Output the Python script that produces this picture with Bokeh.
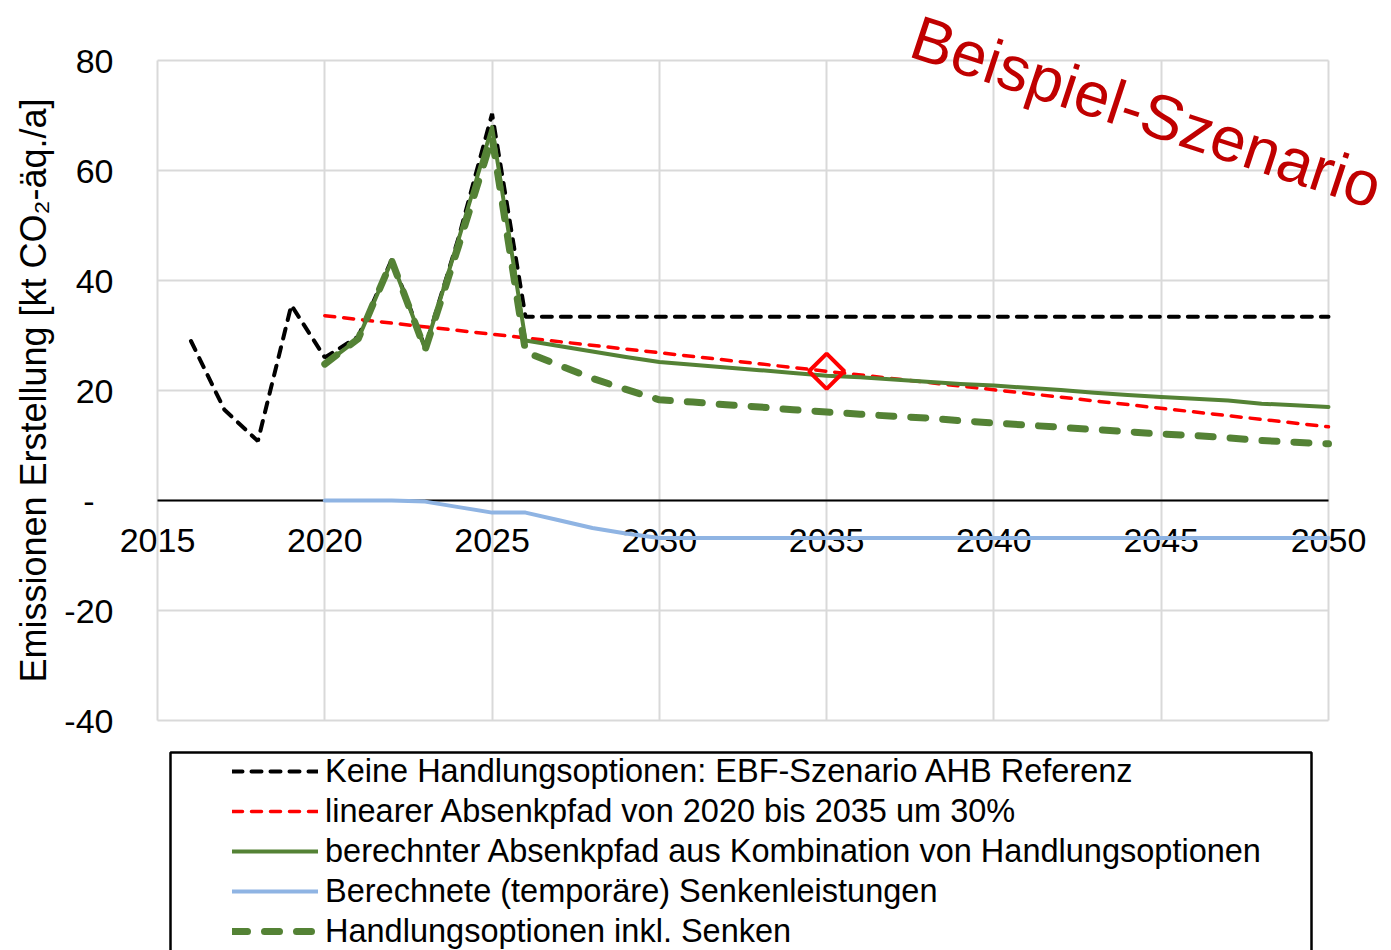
from bokeh.plotting import figure
from bokeh.models import (Legend, LegendItem, FixedTicker, Label, BoxAnnotation, Range1d)
from bokeh.embed import file_html
from bokeh.resources import INLINE

# ---------------- data ----------------
years_ref = [2016, 2017, 2018, 2019, 2020, 2021, 2022, 2023, 2024, 2025,
             2026, 2027, 2028, 2029, 2030, 2031, 2032, 2033, 2034, 2035,
             2036, 2037, 2038, 2039, 2040, 2041, 2042, 2043, 2044, 2045,
             2046, 2047, 2048, 2049, 2050]
keine_handlungsoptionen = [29.0, 16.5, 10.8, 35.5, 26.0, 29.8, 43.8, 27.8, 47.8, 70.3,
                           33.4, 33.4, 33.4, 33.4, 33.4, 33.4, 33.4, 33.4, 33.4, 33.4,
                           33.4, 33.4, 33.4, 33.4, 33.4, 33.4, 33.4, 33.4, 33.4, 33.4,
                           33.4, 33.4, 33.4, 33.4, 33.4]

years_lin = [2020, 2035, 2050]
linearer_absenkpfad = [33.6, 23.5, 13.4]

ziel_year = [2035]
ziel_value = [23.5]

years_calc = [2020, 2021, 2022, 2023, 2024, 2025, 2026, 2027, 2028, 2029,
              2030, 2031, 2032, 2033, 2034, 2035, 2036, 2037, 2038, 2039,
              2040, 2041, 2042, 2043, 2044, 2045, 2046, 2047, 2048, 2049, 2050]
berechneter_absenkpfad = [24.8, 29.4, 43.6, 27.6, 47.5, 67.9, 29.1, 28.1, 27.1, 26.1,
                          25.2, 24.7, 24.2, 23.7, 23.2, 22.7, 22.4, 22.0, 21.6, 21.2,
                          20.9, 20.5, 20.1, 19.6, 19.2, 18.8, 18.5, 18.2, 17.6, 17.3, 17.0]
senkenleistungen = [0.0, 0.0, 0.0, -0.2, -1.2, -2.2, -2.2, -3.6, -5.0, -6.0,
                    -6.8, -6.8, -6.8, -6.8, -6.8, -6.8, -6.8, -6.8, -6.8, -6.8,
                    -6.8, -6.8, -6.8, -6.8, -6.8, -6.8, -6.8, -6.8, -6.8, -6.8, -6.8]
inkl_senken = [24.8, 29.4, 43.6, 27.4, 46.3, 66.0, 27.0, 24.6, 22.2, 20.2,
               18.3, 17.9, 17.4, 17.0, 16.5, 16.1, 15.7, 15.3, 15.0, 14.5,
               14.1, 13.7, 13.3, 12.9, 12.5, 12.1, 11.8, 11.4, 10.9, 10.6, 10.3]

x_ticks = [2015, 2020, 2025, 2030, 2035, 2040, 2045, 2050]
y_ticks = [-40, -20, 0, 20, 40, 60, 80]
y_tick_labels = ["-40", "-20", "-\u00a0\u00a0", "20", "40", "60", "80"]

labels = ["Keine Handlungsoptionen: EBF-Szenario AHB Referenz",
          "linearer Absenkpfad von 2020 bis 2035 um 30%",
          "berechnter Absenkpfad aus Kombination von Handlungsoptionen",
          "Berechnete (temporäre) Senkenleistungen",
          "Handlungsoptionen inkl. Senken"]
watermark = "Beispiel-Szenario"
y_axis_label = "Emissionen Erstellung [kt CO\u2082-äq./a]"

FONT = "Liberation Sans"
GREEN = "#548235"
RED = "#FF0000"
BLUE = "#8FB4E3"
GRID = "#D9D9D9"

# ---------------- layout (pixels) ----------------
W, H = 1391, 950
PLOT_L, PLOT_R, PLOT_T, PLOT_B = 157, 1328, 60, 720
X0, X1, Y0, Y1 = 2015, 2050, -40, 80
sx = (PLOT_R - PLOT_L) / (X1 - X0)
sy = (PLOT_B - PLOT_T) / (Y1 - Y0)
x_range = Range1d(X0 - PLOT_L / sx, X1 + (W - PLOT_R) / sx)
y_range = Range1d(Y0 - (H - PLOT_B) / sy, Y1 + PLOT_T / sy)

p = figure(width=W, height=H, x_range=x_range, y_range=y_range,
           output_backend="svg", toolbar_location=None,
           min_border=0, min_border_left=0, min_border_right=0,
           min_border_top=0, min_border_bottom=0)
p.background_fill_color = "white"
p.border_fill_color = "white"
p.outline_line_color = None

# x axis crossing at y = 0
xa = p.xaxis[0]
xa.fixed_location = 0
xa.bounds = (X0, X1)
xa.ticker = FixedTicker(ticks=x_ticks)
xa.axis_line_color = "black"
xa.axis_line_width = 2
xa.major_tick_line_color = None
xa.minor_tick_line_color = None
xa.major_tick_out = 0
xa.major_tick_in = 0
xa.minor_tick_out = 0
xa.major_label_text_font = FONT
xa.major_label_text_font_size = "34px"
xa.major_label_text_color = "black"
xa.major_label_standoff = 28
xa.level = "underlay"

ya = p.yaxis[0]
ya.fixed_location = X0
ya.bounds = (Y0, Y1)
ya.ticker = FixedTicker(ticks=y_ticks)
ya.major_label_overrides = dict(zip(y_ticks, y_tick_labels))
ya.axis_line_color = None
ya.major_tick_line_color = None
ya.minor_tick_line_color = None
ya.major_tick_out = 0
ya.major_tick_in = 0
ya.minor_tick_out = 0
ya.major_label_text_font = FONT
ya.major_label_text_font_size = "34px"
ya.major_label_text_color = "black"
ya.major_label_standoff = 44
ya.axis_label = y_axis_label
ya.axis_label_text_font = FONT
ya.axis_label_text_font_size = "36px"
ya.axis_label_text_font_style = "normal"
ya.axis_label_text_color = "black"
ya.axis_label_standoff = 7

p.xgrid.ticker = FixedTicker(ticks=x_ticks)
p.ygrid.ticker = FixedTicker(ticks=y_ticks)
p.xgrid.cross_bounds = (Y0, Y1)
p.ygrid.cross_bounds = (X0, X1)
p.grid.grid_line_color = GRID
p.grid.grid_line_width = 2
p.grid.level = "image"

# ---------------- series ----------------
r_ref = p.line(years_ref, keine_handlungsoptionen, line_color="black", line_width=4,
               line_dash="10 9", line_cap="round")
r_lin = p.line(years_lin, linearer_absenkpfad, line_color=RED, line_width=3.5,
               line_dash="10 9", line_cap="round")
r_calc = p.line(years_calc, berechneter_absenkpfad, line_color=GREEN, line_width=4,
                line_cap="round", line_join="round")
r_sink = p.line(years_calc, senkenleistungen, line_color=BLUE, line_width=4,
                line_cap="round", line_join="round")
r_incl = p.line(years_calc, inkl_senken, line_color=GREEN, line_width=7,
                line_dash="15 17", line_cap="round", line_join="round")
p.scatter(ziel_year, ziel_value, marker="square", angle=45, angle_units="deg", size=25,
          line_color=RED, line_width=4, fill_alpha=0)

# ---------------- legend ----------------
legend = Legend(items=[LegendItem(label=labels[0], renderers=[r_ref]),
                       LegendItem(label=labels[1], renderers=[r_lin]),
                       LegendItem(label=labels[2], renderers=[r_calc]),
                       LegendItem(label=labels[3], renderers=[r_sink]),
                       LegendItem(label=labels[4], renderers=[r_incl])],
                location=(232, -1), orientation="vertical",
                label_text_font=FONT, label_text_font_size="32.5px", label_text_color="black",
                label_height=40, glyph_height=40, glyph_width=86, label_standoff=7,
                spacing=0, padding=0, margin=0,
                border_line_color=None, background_fill_alpha=0)
p.add_layout(legend, "center")

box = BoxAnnotation(left=170, right=1311, top=752, bottom=980,
                    left_units="canvas", right_units="canvas",
                    top_units="canvas", bottom_units="canvas",
                    fill_alpha=0, line_color="black", line_alpha=1.0,
                    line_width=2.5, level="overlay")
p.add_layout(box)

title = Label(x=2037.6, y=84.6, text=watermark, angle=-18.2, angle_units="deg",
              text_color="#C00000", text_font=FONT, text_font_size="63px",
              text_align="left", text_baseline="alphabetic")
p.add_layout(title)

open("out.html", "w").write(file_html(p, INLINE))
